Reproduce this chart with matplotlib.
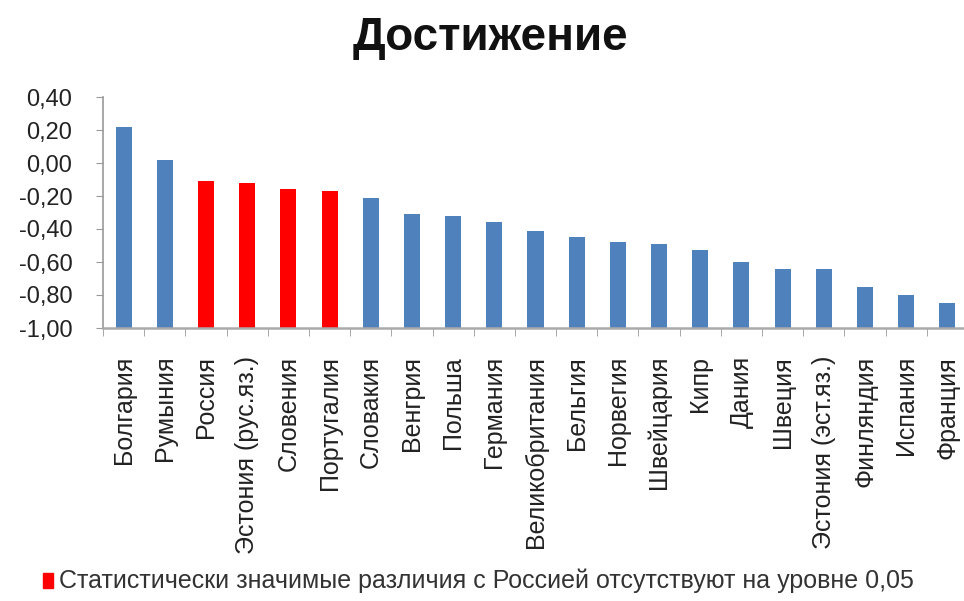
import numpy as np
import matplotlib
matplotlib.use('Agg')
import matplotlib.pyplot as plt
from matplotlib.ticker import FuncFormatter

plt.rcParams['font.family'] = ['Liberation Sans', 'DejaVu Sans']

countries = ['Болгария', 'Румыния', 'Россия', 'Эстония (рус.яз.)', 'Словения',
             'Португалия', 'Словакия', 'Венгрия', 'Польша', 'Германия',
             'Великобритания', 'Бельгия', 'Норвегия', 'Швейцария', 'Кипр',
             'Дания', 'Швеция', 'Эстония (эст.яз.)', 'Финляндия', 'Испания',
             'Франция']
values = [0.22, 0.02, -0.11, -0.12, -0.16, -0.17, -0.21, -0.31, -0.32, -0.36,
          -0.41, -0.45, -0.48, -0.49, -0.53, -0.60, -0.64, -0.64, -0.75, -0.80,
          -0.85]
# no significant difference from Russia
not_significant = ['Россия', 'Эстония (рус.яз.)', 'Словения', 'Португалия']

blue = '#4f81bd'
red = '#ff0000'
base = -1.0

fig = plt.figure(figsize=(9.64, 6.01), dpi=100)
ax = fig.add_axes([103/964, 1 - 328/601, 865/964, 231/601])

x = np.arange(len(countries))
colors = [red if c in not_significant else blue for c in countries]
heights = [v - base for v in values]
ax.bar(x, heights, 0.39, bottom=base, color=colors, zorder=2)

ax.set_xlim(-0.5, len(countries) - 0.5)
ax.set_ylim(-1.0, 0.4)
ax.set_yticks(np.arange(-1.0, 0.41, 0.2))
ax.yaxis.set_major_formatter(FuncFormatter(lambda v, p: ('%.2f' % v).replace('.', ',').replace('-0,00', '0,00')))
ax.set_xticks(x)
ax.set_xticklabels(countries, rotation=90, fontsize=18, color='#222222')
ax.set_xticks(np.arange(-0.5, len(countries), 1), minor=True)
ax.tick_params(axis='x', which='major', length=0, pad=20)
ax.tick_params(axis='x', which='minor', length=6, color='#999999', direction='out')
ax.tick_params(axis='y', labelsize=17, length=5, color='#999999', pad=17,
               labelcolor='#222222')

for s in ['top', 'right']:
    ax.spines[s].set_visible(False)
ax.spines['left'].set_color('#999999')
ax.spines['bottom'].set_color('#aaaaaa')
ax.spines['left'].set_linewidth(1.2)
ax.spines['bottom'].set_linewidth(1.8)

fig.text(490/964, 1 - 38/601, 'Достижение', ha='center', va='center',
         fontsize=33, fontweight='bold', color='#111111')

# legend
fig.patches.append(plt.Rectangle((43/964, 1 - 588/601), 10/964, 15/601,
                                 transform=fig.transFigure, color=red, figure=fig))
fig.text(59/964, 1 - 581/601, 'Статистически значимые различия с Россией отсутствуют на уровне 0,05',
         ha='left', va='center', fontsize=18, color='#333333')

fig.savefig('out.png', dpi=100)
